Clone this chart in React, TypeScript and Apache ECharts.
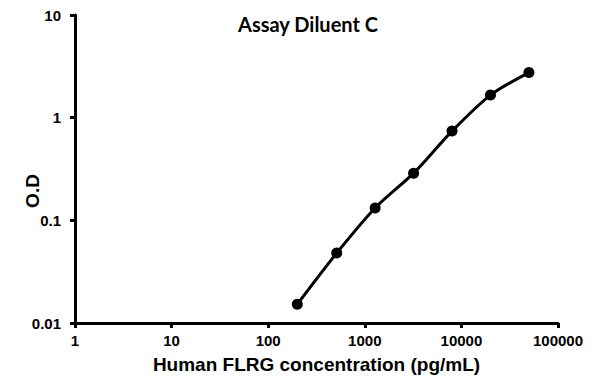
import React, { useEffect, useRef } from "react";
import * as echarts from "echarts";

const concentrations = [200, 512, 1280, 3200, 8000, 20000, 50000];
const odValues = [0.0152, 0.048, 0.132, 0.288, 0.74, 1.66, 2.75];
const xTickLabels = ["1", "10", "100", "1000", "10000", "100000"];
const yTickLabels = ["0.01", "0.1", "1", "10"];

export default function App() {
  const ref = useRef<HTMLDivElement>(null);
  useEffect(() => {
    if (!ref.current) return;
    const chart = echarts.init(ref.current, undefined, { renderer: "svg" });
    const labelFont = {
      fontFamily: "'Liberation Sans', Arial, sans-serif",
      fontWeight: "bold" as const,
      color: "#000",
    };
    chart.setOption({
      animation: false,
      backgroundColor: "#fff",
      grid: { left: 75, right: 37, top: 15, bottom: 61 },
      graphic: [
        {
          type: "text",
          x: 308,
          y: 24,
          style: {
            text: "Assay Diluent C",
            fontFamily: "Lato, 'Open Sans', sans-serif",
            fontWeight: "bold",
            fontSize: 20,
            fill: "#000",
            textAlign: "center",
            textVerticalAlign: "middle",
          },
        },
        {
          type: "text",
          x: 32,
          y: 191,
          rotation: Math.PI / 2,
          style: {
            text: "O.D",
            fontFamily: "'Liberation Sans', Arial, sans-serif",
            fontWeight: "bold",
            fontSize: 19,
            fill: "#000",
            textAlign: "center",
            textVerticalAlign: "middle",
          },
        },
      ],
      xAxis: {
        type: "log",
        logBase: 10,
        min: 1,
        max: 100000,
        name: "Human FLRG concentration (pg/mL)",
        nameLocation: "middle",
        nameGap: 32,
        nameTextStyle: { ...labelFont, fontSize: 19 },
        axisLine: { lineStyle: { color: "#000", width: 3 } },
        axisTick: { length: 5, lineStyle: { color: "#000", width: 3 } },
        axisLabel: {
          ...labelFont,
          fontSize: 15,
          margin: 10,
          formatter: (v: number) => xTickLabels[Math.round(Math.log10(v))] ?? "",
        },
        splitLine: { show: false },
        minorTick: { show: false },
      },
      yAxis: {
        type: "log",
        logBase: 10,
        min: 0.01,
        max: 10,
        axisLine: { show: true, lineStyle: { color: "#000", width: 3 } },
        axisTick: { show: true, length: 5, lineStyle: { color: "#000", width: 3 } },
        axisLabel: {
          ...labelFont,
          fontSize: 15,
          margin: 14,
          formatter: (v: number) => yTickLabels[Math.round(Math.log10(v)) + 2] ?? "",
        },
        splitLine: { show: false },
      },
      series: [
        {
          type: "line",
          data: concentrations.map((c, i) => [c, odValues[i]]),
          smooth: 0.3,
          symbol: "circle",
          symbolSize: 11,
          itemStyle: { color: "#000" },
          lineStyle: { color: "#000", width: 3 },
        },
      ],
    });
    return () => chart.dispose();
  }, []);
  return <div ref={ref} style={{ width: 595, height: 384, margin: -8 }} />;
}
